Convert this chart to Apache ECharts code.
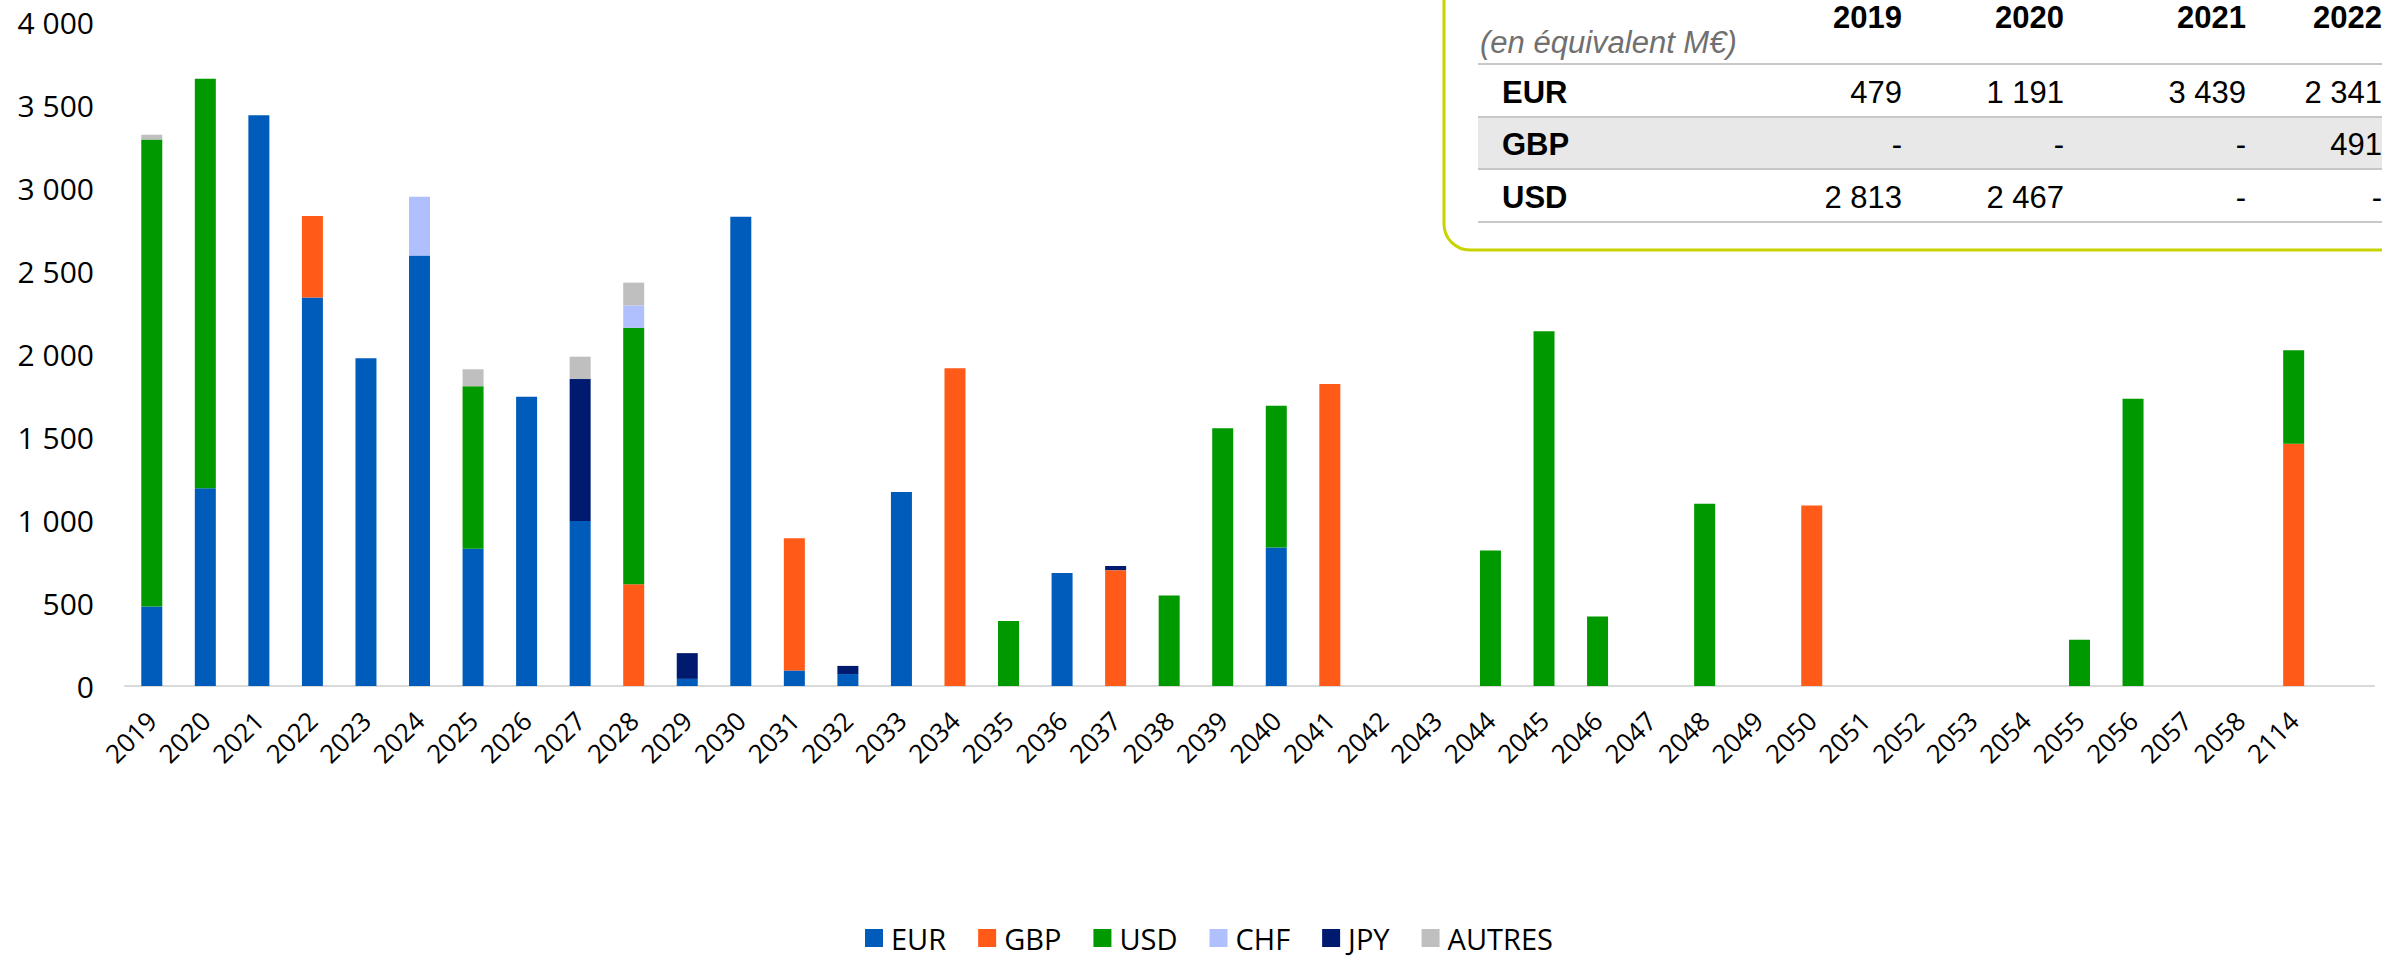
<!DOCTYPE html>
<html>
<head>
<meta charset="utf-8">
<title>Échéancier de la dette par devise</title>
<script src="https://cdn.jsdelivr.net/npm/echarts/dist/echarts.min.js"></script>
<style>
  html, body { margin: 0; padding: 0; background: #ffffff; }
  #chart { width: 2382px; height: 956px; }
</style>
</head>
<body>
<div id="chart"></div>
<script>
// Maturity years (the trailing empty slot leaves room after 2114)
const years = ['2019','2020','2021','2022','2023','2024','2025','2026','2027','2028',
  '2029','2030','2031','2032','2033','2034','2035','2036','2037','2038',
  '2039','2040','2041','2042','2043','2044','2045','2046','2047','2048',
  '2049','2050','2051','2052','2053','2054','2055','2056','2057','2058','2114',''];

// Amounts per currency, in M€ equivalent, one value per maturity year
const eur = [479,1191,3439,2341,1975,2594,827,1742,994,0,
  43,2827,94,72,1169,0,0,680,0,0,
  0,835,0,0,0,0,0,0,0,0,
  0,0,0,0,0,0,0,0,0,0,0];
const gbp = [0,0,0,491,0,0,0,0,0,613,
  0,0,796,0,0,1914,0,0,698,0,
  0,0,1819,0,0,0,0,0,0,0,
  0,1088,0,0,0,0,0,0,0,0,1460];
const usd = [2813,2467,0,0,0,0,979,0,0,1545,
  0,0,0,0,0,0,392,0,0,545,
  1553,853,0,0,0,817,2137,418,0,1098,
  0,0,0,0,0,0,279,1731,0,0,562];
const chf = [0,0,0,0,0,354,0,0,0,135,
  0,0,0,0,0,0,0,0,0,0,
  0,0,0,0,0,0,0,0,0,0,
  0,0,0,0,0,0,0,0,0,0,0];
const jpy = [0,0,0,0,0,0,0,0,855,0,
  155,0,0,49,0,0,0,0,25,0,
  0,0,0,0,0,0,0,0,0,0,
  0,0,0,0,0,0,0,0,0,0,0];
const autres = [29,0,0,0,0,0,102,0,135,137,
  0,0,0,0,0,0,0,0,0,0,
  0,0,0,0,0,0,0,0,0,0,
  0,0,0,0,0,0,0,0,0,0,0];

const currencyNames = ['EUR','GBP','USD','CHF','JPY','AUTRES'];
const currencyColors = ['#005cbb','#ff5a17','#009900','#b0c0ff','#001a70','#bfbfbf'];
const yTicks = [0, 500, 1000, 1500, 2000, 2500, 3000, 3500, 4000];

// Summary table: first four years, three main currencies
const tableYears = ['2019','2020','2021','2022'];
const tableRows = [['EUR', eur], ['GBP', gbp], ['USD', usd]];
const tableUnit = '(en équivalent M€)';

function withSpaces(v) {
  return String(v).replace(/\B(?=(\d{3})+(?!\d))/g, ' ');
}
function tableCell(v) {
  return v ? withSpaces(v) : '-';
}

const seriesData = [eur, gbp, usd, chf, jpy, autres];

const chart = echarts.init(document.getElementById('chart'), null, { renderer: 'svg' });

// Table layout
const colRight = [1902, 2064, 2246, 2382];
const rowLineY = [64, 117, 169, 222];
const rowCenterY = [92, 144, 197];
const tableLeft = 1478;
const tableFont = '"Liberation Sans", Arial, sans-serif';

const graphics = [];
// framed panel (top and right edges run off the page)
graphics.push({
  type: 'rect', z: 10,
  shape: { x: 1444, y: -60, width: 1100, height: 310, r: 26 },
  style: { fill: '#ffffff', stroke: '#c8d400', lineWidth: 3 }
});
// shaded GBP row
graphics.push({
  type: 'rect', z: 11,
  shape: { x: tableLeft, y: rowLineY[1], width: 1000, height: rowLineY[2] - rowLineY[1] },
  style: { fill: '#e8e8e8' }
});
rowLineY.forEach(function (y) {
  graphics.push({
    type: 'line', z: 12,
    shape: { x1: tableLeft, y1: y, x2: 2500, y2: y },
    style: { stroke: '#c8c8c8', lineWidth: 2 }
  });
});
graphics.push({
  type: 'text', z: 13, x: 1480, y: 42,
  style: { text: tableUnit, font: 'italic 31px ' + tableFont, fill: '#707070',
           align: 'left', verticalAlign: 'middle' }
});
tableYears.forEach(function (yr, i) {
  graphics.push({
    type: 'text', z: 13, x: colRight[i], y: 17,
    style: { text: yr, font: 'bold 31px ' + tableFont, fill: '#000000',
             align: 'right', verticalAlign: 'middle' }
  });
});
tableRows.forEach(function (row, r) {
  graphics.push({
    type: 'text', z: 13, x: 1502, y: rowCenterY[r],
    style: { text: row[0], font: 'bold 31px ' + tableFont, fill: '#000000',
             align: 'left', verticalAlign: 'middle' }
  });
  tableYears.forEach(function (yr, i) {
    graphics.push({
      type: 'text', z: 13, x: colRight[i], y: rowCenterY[r],
      style: { text: tableCell(row[1][years.indexOf(yr)]), font: '31px ' + tableFont,
               fill: '#000000', align: 'right', verticalAlign: 'middle' }
    });
  });
});

const option = {
  backgroundColor: '#ffffff',
  animation: false,
  textStyle: { fontFamily: '"Open Sans", sans-serif' },
  grid: { left: 125, right: 8, top: 22, bottom: 270, containLabel: false },
  legend: {
    data: currencyNames,
    left: 860,
    top: 918,
    icon: 'rect',
    itemWidth: 18,
    itemHeight: 18,
    itemGap: 32,
    textStyle: { fontFamily: '"Open Sans", sans-serif', fontSize: 29, color: '#000000',
                 lineHeight: 30, padding: [0, 0, 0, 3] }
  },
  xAxis: {
    type: 'category',
    data: years,
    axisLine: { show: true, lineStyle: { color: '#d9d9d9', width: 2 } },
    axisTick: { show: false },
    axisLabel: {
      interval: 0, rotate: 45, margin: 30,
      fontFamily: '"Open Sans", sans-serif', fontSize: 26, color: '#000000'
    }
  },
  yAxis: {
    type: 'value',
    min: yTicks[0],
    max: yTicks[yTicks.length - 1],
    interval: yTicks[1] - yTicks[0],
    axisLine: { show: false },
    axisTick: { show: false },
    splitLine: { show: false },
    axisLabel: {
      margin: 31,
      fontFamily: '"Open Sans", sans-serif', fontSize: 30, color: '#000000',
      formatter: function (v) { return withSpaces(v); }
    }
  },
  series: currencyNames.map(function (name, i) {
    return {
      name: name,
      type: 'bar',
      stack: 'total',
      barWidth: 21,
      itemStyle: { color: currencyColors[i] },
      data: seriesData[i]
    };
  }),
  graphic: { elements: graphics }
};

chart.setOption(option);
</script>
</body>
</html>
